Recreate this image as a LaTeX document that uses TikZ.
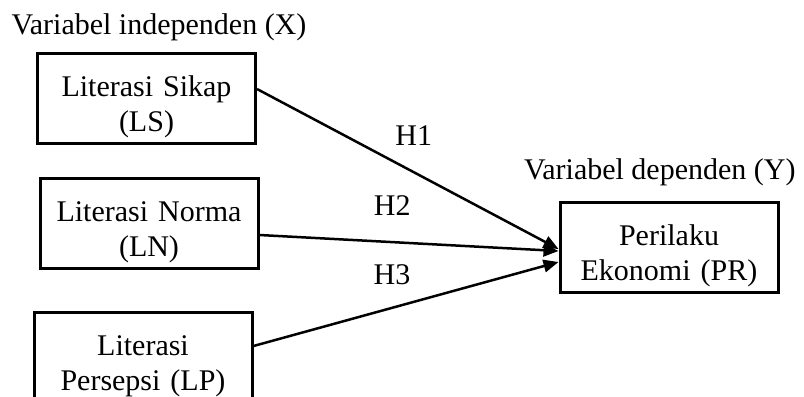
\documentclass[tikz,border=0pt]{standalone}
\usepackage{fontspec}
\setmainfont{Liberation Serif}
\usetikzlibrary{arrows.meta, positioning}

\tikzstyle{box} = [draw, line width = 1.2pt, text width = 87.2pt, align = center, inner sep = 0pt,
    text height = 17.4pt, text depth = 18.6pt, font = \fontsize{12}{13.8}\selectfont]
\tikzstyle{link} = [draw, line width = 1pt, -{Triangle[length = 6pt, width = 5pt]}]
\tikzstyle{title} = [inner sep = 0pt, anchor = base west, font = \fontsize{12}{14}\selectfont]
\tikzstyle{hyp} = [inner sep = 0pt, font = \fontsize{12}{14}\selectfont]

\begin{document}
\begin{tikzpicture}
        \useasboundingbox (0,0) rectangle (321.6pt,-158.4pt);

        \node[box] (LS) at (58.6pt,-39.2pt) {Literasi Sikap\\(LS)};
        \node[box, below = 12.8pt of LS, xshift = 1pt] (LN) {Literasi Norma\\(LN)};
        \node[box, below = 16.4pt of LN, xshift = -2.4pt] (LP) {Literasi\\Persepsi (LP)};
        \node[box, right = 119.6pt of LN, yshift = -9.6pt] (PR) {Perilaku\\Ekonomi (PR)};

        \node[title] (X) at ([xshift = -10pt, yshift = 6.8pt] LS.north west) {Variabel independen (X)};
        \node[title] (Y) at ([xshift = -14pt, yshift = 8.4pt] PR.north west) {Variabel dependen (Y)};

        \path[link] ([yshift = 3.6pt] LS.east) -- ([yshift = -0.8pt] PR.west)
            node [hyp, pos = 0.52, yshift = 14.7pt] (H1) {H1};
        \path[link] ([yshift = -4.8pt] LN.east) -- ([yshift = -1.6pt] PR.west)
            node [hyp, pos = 0.444, yshift = 14.7pt] (H2) {H2};
        \path[link] ([yshift = 4.4pt] LP.east) -- ([yshift = -6pt] PR.west)
            node [hyp, pos = 0.454, yshift = 13.3pt] (H3) {H3};
    \end{tikzpicture}
\end{document}
